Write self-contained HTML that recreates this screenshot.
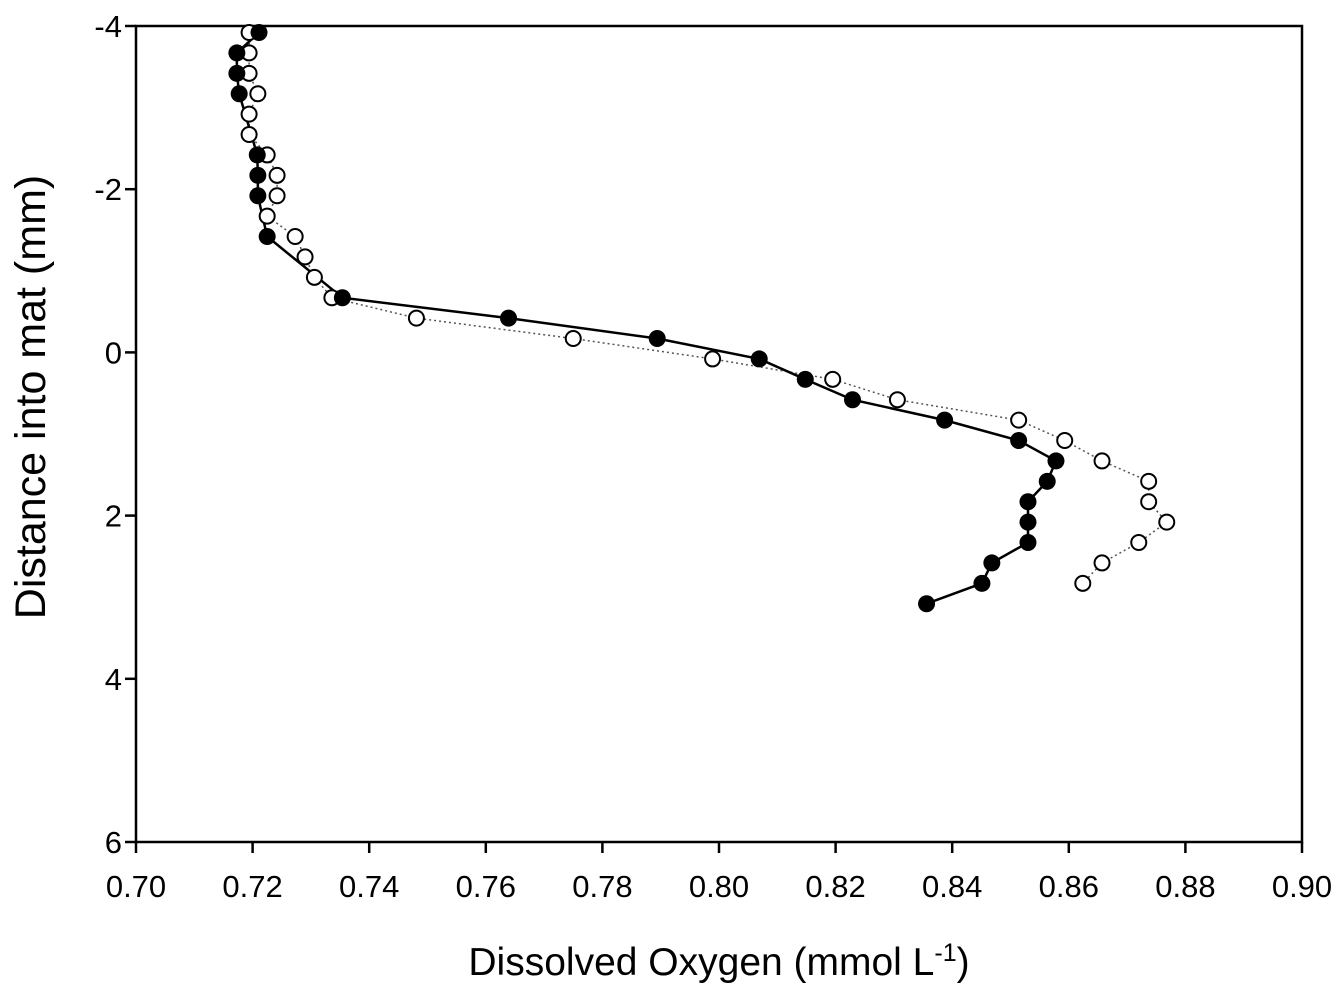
<!DOCTYPE html>
<html><head><meta charset="utf-8"><style>
body{margin:0;background:#fff;}
svg text{font-family:"Liberation Sans",Arial,sans-serif;fill:#000;}
</style></head><body>
<svg id="chart" width="1343" height="1000" xmlns="http://www.w3.org/2000/svg">
<g id="g"></g>
</svg>
<script>
const depths=[-3.92,-3.67,-3.42,-3.17,-2.92,-2.67,-2.42,-2.17,-1.92,-1.67,-1.42,-1.17,-0.92,-0.67,-0.42,-0.17,0.08,0.33,0.58,0.83,1.08,1.33,1.58,1.83,2.08,2.33,2.58,2.83,3.08];
const filledO2=[0.7211,0.7173,0.7173,0.7177,null,null,0.7208,0.7209,0.7209,null,0.7225,null,null,0.7354,0.7639,0.7894,0.8069,0.8148,0.8229,0.8387,0.8514,0.8578,0.8563,0.8530,0.8530,0.8530,0.8468,0.8451,0.8356];
const openO2=[0.7194,0.7194,0.7194,0.7209,0.7194,0.7194,0.7225,0.7242,0.7242,0.7225,0.7273,0.7290,0.7306,0.7336,0.7481,0.7750,0.7989,0.8195,0.8306,0.8514,0.8593,0.8657,0.8737,0.8737,0.8768,0.8720,0.8657,0.8624,null];
const xTicks=["0.70","0.72","0.74","0.76","0.78","0.80","0.82","0.84","0.86","0.88","0.90"];
const yTicks=["-4","-2","0","2","4","6"];
const X0=136,X1=1302,Y0=26,Y1=842;
const xs=v=>X0+(v-0.70)/0.20*(X1-X0);
const ys=v=>Y0+(v+4)/10*(Y1-Y0);
const NS="http://www.w3.org/2000/svg";
const g=document.getElementById('g');
function mk(t,a){const e=document.createElementNS(NS,t);for(const k in a)e.setAttribute(k,a[k]);g.appendChild(e);return e;}
let f=mk('rect',{x:X0,y:Y0,width:X1-X0,height:Y1-Y0,fill:'none',stroke:'#000','stroke-width':2.5});


xTicks.forEach(t=>{const x=xs(+t);
 let l=mk('line',{x1:x,x2:x,y1:Y1,y2:Y1+11,stroke:'#000','stroke-width':2.5});
 
 
 let tx=mk('text',{x:x,y:897,'text-anchor':'middle','font-size':31});tx.textContent=t;
 
 
});
yTicks.forEach(t=>{const y=ys(+t);
 let l=mk('line',{x1:X0-11,x2:X0,y1:y,y2:y,stroke:'#000','stroke-width':2.5});
 
 
 let tx=mk('text',{x:X0-14,y:y+11,'text-anchor':'end','font-size':31});tx.textContent=t;
 
 
});
function path(vals,attrs,name){let d='';vals.forEach((v,i)=>{if(v==null)return;d+=(d?'L':'M')+xs(v)+','+ys(depths[i]);});
 let p=mk('path',Object.assign({d:d,fill:'none'},attrs));
 
 }
path(openO2,{stroke:'#555','stroke-width':1.5,'stroke-dasharray':'2,3'},'open-series-line');
path(filledO2,{stroke:'#000','stroke-width':2.5},'filled-series-line');
openO2.forEach((v,i)=>{if(v==null)return;
 let c=mk('circle',{cx:xs(v),cy:ys(depths[i]),r:7.5,fill:'#fff',stroke:'#000','stroke-width':2});
 
 });
filledO2.forEach((v,i)=>{if(v==null)return;
 let c=mk('circle',{cx:xs(v),cy:ys(depths[i]),r:8.5,fill:'#000'});
 
 });
let xt=mk('text',{x:719,y:975,'text-anchor':'middle','font-size':39});
xt.innerHTML='Dissolved Oxygen (mmol L<tspan dy="-14" font-size="25">-1</tspan><tspan dy="14">)</tspan>';


let yt=mk('text',{x:0,y:0,'text-anchor':'middle','font-size':43,transform:'translate(45,397) rotate(-90)'});
yt.textContent='Distance into mat (mm)';


</script>
</body></html>
